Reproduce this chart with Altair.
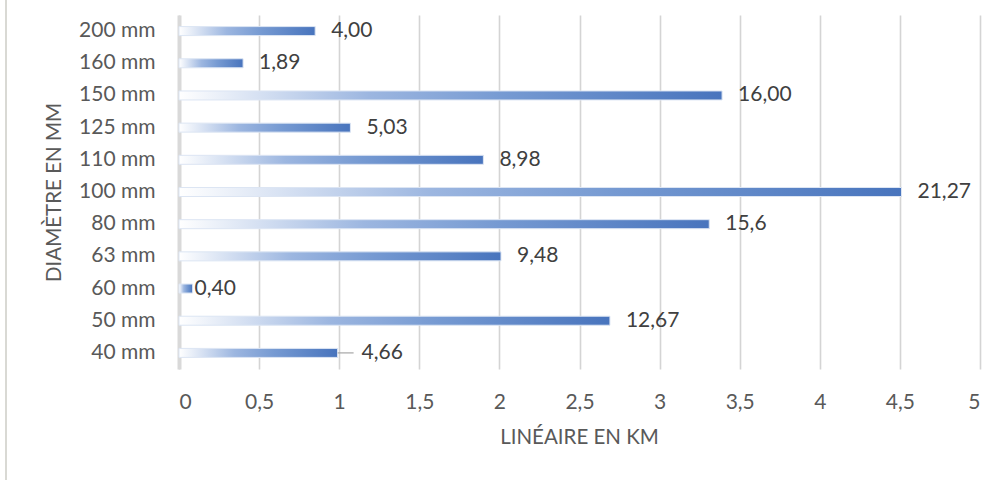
import altair as alt
import pandas as pd

# Pipe diameters (top to bottom as displayed)
categories = ["200 mm", "160 mm", "150 mm", "125 mm", "110 mm", "100 mm",
              "80 mm", "63 mm", "60 mm", "50 mm", "40 mm"]
# Network length per diameter, km
lengths_km = [0.85, 0.40, 3.39, 1.07, 1.90, 4.51, 3.31, 2.01, 0.085, 2.69, 0.99]
# Share of the total network, %, as printed next to each bar
share_labels = ["4,00", "1,89", "16,00", "5,03", "8,98", "21,27",
                "15,6", "9,48", "0,40", "12,67", "4,66"]
x_ticks = [0, 0.5, 1, 1.5, 2, 2.5, 3, 3.5, 4, 4.5, 5]

df = pd.DataFrame({"diam": categories, "km": lengths_km, "label": share_labels})

FONT = "Lato"
TXT = "#595959"
FS = 21
TITLE_FS = 20.5

bar_fill = {
    "gradient": "linear", "x1": 0, "x2": 1, "y1": 0, "y2": 0,
    "stops": [
        {"offset": 0.0, "color": "#ffffff"},
        {"offset": 0.15, "color": "#d5e0f2"},
        {"offset": 0.35, "color": "#9cb6e0"},
        {"offset": 0.6, "color": "#769ad2"},
        {"offset": 1.0, "color": "#4874bd"},
    ],
}

y_enc = alt.Y(
    "diam:N", sort=categories,
    scale=alt.Scale(paddingInner=0, paddingOuter=0),
    axis=alt.Axis(
        title="DIAMÈTRE EN MM", titleFont=FONT, titleFontSize=TITLE_FS, titleFontWeight="normal",
        titleColor=TXT, titleX=-125, titleY=177, titleAngle=-90, titleBaseline="middle",
        titleAlign="center",
        labelFont=FONT, labelFontSize=FS, labelColor=TXT, labelPadding=24,
        ticks=False, tickSize=0, domain=True, domainColor="#d9d9d9", domainWidth=4,
        grid=False,
    ),
)

x_enc = alt.X(
    "km:Q",
    scale=alt.Scale(domain=[0, 5], nice=False),
    axis=alt.Axis(
        values=x_ticks,
        labelExpr="replace(format(datum.value, '~g'), '.', ',')",
        title="LINÉAIRE EN KM", titleFont=FONT, titleFontSize=TITLE_FS, titleFontWeight="normal",
        titleColor=TXT, titleX=400, titleY=68, titleBaseline="middle",
        labelFont=FONT, labelFontSize=FS, labelColor=TXT, labelPadding=33,
        labelBaseline="middle",
        ticks=False, tickSize=0, domain=False,
        grid=True, gridColor="#d4d4d4", gridWidth=1.6,
    ),
)

bars = alt.Chart(df).mark_bar(
    size=9, color=bar_fill, stroke="#dce5f3", strokeWidth=1
).encode(x=x_enc, y=y_enc)

base_text = alt.Chart(df).encode(
    x="km:Q", y=alt.Y("diam:N", sort=categories), text="label:N"
)
text_style = dict(align="left", baseline="middle", font=FONT, fontSize=FS, color="#404040")

labels_main = base_text.transform_filter(
    "datum.diam != '60 mm' && datum.diam != '40 mm'"
).mark_text(dx=16, **text_style)
label_60 = base_text.transform_filter("datum.diam == '60 mm'").mark_text(dx=2, **text_style)
label_40 = base_text.transform_filter("datum.diam == '40 mm'").mark_text(dx=24, **text_style)

# leader line for the 40 mm label
leader = alt.Chart(df).transform_filter("datum.diam == '40 mm'").mark_rule(
    color="#a6a6a6", strokeWidth=1.2, x2Offset=16
).encode(x="km:Q", x2="km:Q", y=alt.Y("diam:N", sort=categories))

# outer frame edge on the left
frame = alt.Chart(df).mark_rule(color="#d9d9d4", strokeWidth=2).encode(
    x=alt.value(-173), y=alt.value(-15), y2=alt.value(465)
)

chart = alt.layer(frame, bars, leader, labels_main, label_60, label_40).properties(
    width=801, height=354,
    padding={"left": 179, "top": 15, "right": 26, "bottom": 111},
    autosize=alt.AutoSizeParams(type="none"),
    background="white",
).configure_view(stroke=None)

chart.save("out.html", embed_options={"renderer": "svg", "actions": False})
